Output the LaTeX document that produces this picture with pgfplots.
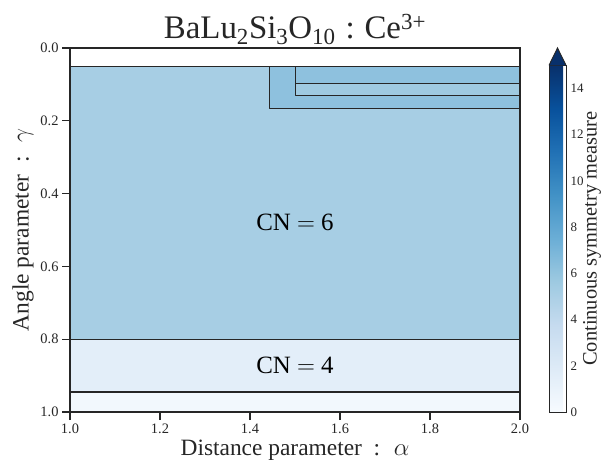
\documentclass[border=0pt]{standalone}
\usepackage{pgfplots}
\pgfplotsset{compat=1.18}
\usepackage{fontspec}
\setmainfont{Liberation Serif}

\definecolor{cbtop}{RGB}{8,48,107}
\definecolor{frame}{RGB}{38,38,38}

\pgfplotsset{
  colormap={blues}{
    rgb255=(247,251,255) rgb255=(222,235,247) rgb255=(198,219,239)
    rgb255=(158,202,225) rgb255=(107,174,214) rgb255=(66,146,198)
    rgb255=(33,113,181)  rgb255=(8,81,156)    rgb255=(8,48,107)}
}

% Regions of the (alpha, gamma) map: four corners per rectangle, with the CSM value
\pgfplotstableread{
x      y      c
1.000  0.050  5.2
2.000  0.050  5.2
2.000  0.800  5.2
1.000  0.800  5.2
1.000  0.800  1.5
2.000  0.800  1.5
2.000  0.945  1.5
1.000  0.945  1.5
1.000  0.945  0.4
2.000  0.945  0.4
2.000  1.000  0.4
1.000  1.000  0.4
1.444  0.050  6.2
2.000  0.050  6.2
2.000  0.166  6.2
1.444  0.166  6.2
1.502  0.050  6.2
2.000  0.050  6.2
2.000  0.097  6.2
1.502  0.097  6.2
1.502  0.097  5.6
2.000  0.097  5.6
2.000  0.131  5.6
1.502  0.131  5.6
}\regions

\begin{document}
\begin{tikzpicture}
\begin{axis}[
  name=main,
  scale only axis,
  width=450bp, height=364bp,
  xmin=1, xmax=2, ymin=0, ymax=1,
  y dir=reverse,
  axis on top,
  xtick={1,1.2,1.4,1.6,1.8,2},
  ytick={0,0.2,0.4,0.6,0.8,1},
  xticklabel={\pgfmathprintnumber[fixed,fixed zerofill,precision=1,assume math mode=true]{\tick}},
  yticklabel={\pgfmathprintnumber[fixed,fixed zerofill,precision=1,assume math mode=true]{\tick}},
  xtick pos=bottom, ytick pos=left,
  tick align=outside,
  major tick length=8bp,
  tick style={frame, line width=1.3bp},
  axis line style={frame, line width=1.3bp},
  tick label style={font=\fontsize{14.5}{14.5}\selectfont, text=frame},
  xlabel={Distance parameter \ : \ $\alpha$},
  ylabel={Angle parameter \ : \ $\gamma$},
  label style={font=\fontsize{23.5}{23.5}\selectfont, text=frame},
  title={BaLu\textsubscript{2}Si\textsubscript{3}O\textsubscript{10}\hspace{0.3em}:\hspace{0.3em}Ce\textsuperscript{3+}},
  title style={font=\fontsize{33}{33}\selectfont, text=frame, at={(0.5,1)}, anchor=base, yshift=4bp},
  colormap name=blues,
  point meta min=0, point meta max=15,
  colorbar,
  colorbar style={
    at={(parent axis.south east)}, anchor=south west, xshift=20.5bp,
    scale only axis, width=17bp, height=346.7bp,
    ytick={0,2,4,6,8,10,12,14},
    yticklabel pos=right,
    major tick length=0pt,
    yticklabel style={font=\fontsize{13}{13}\selectfont, text=frame,
      /pgf/number format/assume math mode=true, xshift=1bp},
    axis line style={frame, line width=0.9bp},
    ylabel={Continuous symmetry measure},
    ylabel style={font=\fontsize{20.5}{20.5}\selectfont, text=frame,
      at={([xshift=17bp]rel axis cs:1,0.5)}, anchor=north, inner sep=0pt},
    after end axis/.code={
      \fill[cbtop] (rel axis cs:0,1) -- (rel axis cs:0.5,1.05) -- (rel axis cs:1,1) -- cycle;
      \draw[frame, line width=0.9bp, line join=miter]
        (rel axis cs:0,1) -- (rel axis cs:0.5,1.05) -- (rel axis cs:1,1);
    },
  },
]
\addplot[patch, patch type=rectangle, shader=faceted, faceted color=frame,
  line width=1.1bp, point meta=explicit] table[x=x, y=y, meta=c] {\regions};

\node[font=\fontsize{25}{25}\selectfont, text=black] at (axis cs:1.5,0.479) {CN $=$ 6};
\node[font=\fontsize{25}{25}\selectfont, text=black] at (axis cs:1.5,0.8725) {CN $=$ 4};
\end{axis}
\pgfresetboundingbox
\path ([shift={(-70bp,-53bp)}]main.south west) rectangle ([shift={(85bp,48bp)}]main.north east);
\end{tikzpicture}
\end{document}
